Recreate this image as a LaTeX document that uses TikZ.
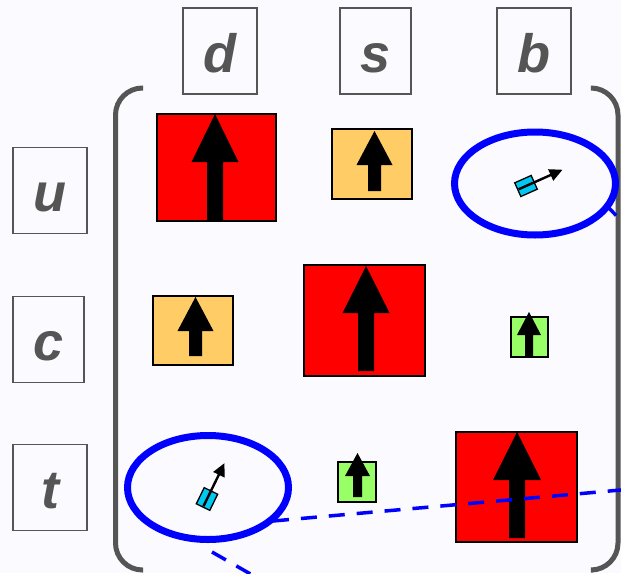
\documentclass[tikz,border=0pt]{standalone}
\usepackage{fontspec}
\setmainfont{Liberation Sans}
\usetikzlibrary{shapes.geometric,arrows.meta}

\definecolor{bgpaper}{RGB}{250,250,255}
\definecolor{labelgray}{RGB}{85,85,85}
\definecolor{spinred}{RGB}{255,0,0}
\definecolor{spinorange}{RGB}{255,204,102}
\definecolor{spingreen}{RGB}{153,255,102}
\definecolor{spincyan}{RGB}{0,200,240}
\definecolor{mixblue}{RGB}{0,0,255}

% upward spin arrow: x, y bottom, y head base, y tip, shaft width, head width
\newcommand\spinup[6]{%
  \fill[black] ({#1-#5/2},#2) -- ({#1-#5/2},#3) -- ({#1-#6/2},#3) -- (#1,#4)
    -- ({#1+#6/2},#3) -- ({#1+#5/2},#3) -- ({#1+#5/2},#2) -- cycle;}

% small tilted spin inside a mixing ellipse: centre x, centre y, rotation
\newcommand\tinyspin[3]{%
  \begin{scope}[shift={(#1,#2)}, rotate=#3]
    \draw[fill=spincyan, line width=1.3pt] (-7.5,-9) rectangle (7.5,9);
    \draw[line width=2.4pt, -{Triangle[length=13pt,width=12pt]}] (0,8) -- (0,-40);
  \end{scope}}

\begin{document}
\begin{tikzpicture}[x=1pt, y=-1pt,
  flavour/.style={draw=labelgray, line width=1.8pt, inner sep=0pt,
    minimum width=74pt, text height=64pt, text depth=22pt, text=labelgray,
    font=\fontsize{54}{54}\selectfont\bfseries\itshape},
  cell/.style={draw=black, line width=1.5pt, inner sep=0pt},
  mixing/.style={ellipse, draw=mixblue, line width=7pt, inner sep=0pt},
  link/.style={draw=mixblue, line width=3.5pt, dash pattern=on 16pt off 12pt},
  bracket/.style={draw=labelgray, line width=5pt, rounded corners=27pt}]

  \useasboundingbox (0,0) rectangle (621,573);
  \fill[bgpaper] (0,0) rectangle (621,573);
  \clip (0,0) rectangle (621,573);

  % column and row labels
  \node[flavour] (lbd) at (220,51) {d};
  \node[flavour, minimum width=71pt] (lbs) at (375.5,51) {s};
  \node[flavour] (lbb) at (534,51) {b};
  \node[flavour] (lbu) at (50,190.5) {u};
  \node[flavour, minimum width=71pt] (lbc) at (48.5,339.5) {c};
  \node[flavour] (lbt) at (50,487.5) {t};

  % matrix brackets
  \draw[bracket] (143,88) -- (115.5,88) -- (115.5,570) -- (143,570);
  \draw[bracket] (593,88) -- (618,88) -- (618,570) -- (593,570);

  % matrix cells
  \node[cell, fill=spinred, minimum width=119pt, minimum height=107pt] (ud) at (216.5,167.5) {};
  \node[cell, fill=spinorange, minimum width=80pt, minimum height=70pt] (us) at (372,164) {};
  \node[mixing, minimum width=161pt, minimum height=103pt] (ub) at (535,183.5) {};

  \node[cell, fill=spinorange, minimum width=80pt, minimum height=69pt] (cd) at (193,330.5) {};
  \node[cell, fill=spinred, minimum width=121pt, minimum height=111pt] (cs) at (364.5,320.5) {};
  \node[cell, fill=spingreen, minimum width=37pt, minimum height=40pt] (cb) at (529.5,337) {};

  \node[mixing, minimum width=161pt, minimum height=104pt] (td) at (208,487.5) {};
  \node[cell, fill=spingreen, minimum width=38pt, minimum height=40pt] (ts) at (357,482) {};
  \node[cell, fill=spinred, minimum width=121pt, minimum height=110pt] (tb) at (516.5,487) {};

  % spin arrows
  \spinup{215}{220}{162}{114}{16}{47}
  \spinup{374.5}{191}{165}{131}{13}{36}
  \spinup{195.5}{356}{331}{297}{13}{36}
  \spinup{366}{371}{313}{266}{16}{47}
  \spinup{529}{356}{335}{312}{8}{24}
  \spinup{357.5}{497}{476}{453}{9}{25}
  \spinup{517}{538}{480}{432}{16}{48}

  \tinyspin{526}{186}{-66}
  \tinyspin{207}{499}{-26}

  % dashed connectors leaving the mixing ellipses
  \coordinate (tdA) at (273,521);
  \coordinate (tdAend) at (660,486.5);
  \coordinate (tdB) at (212,552);
  \coordinate (tdBend) at (275,588);
  \coordinate (ubA) at (605,204);
  \coordinate (ubAend) at (640,240);
  \draw[link] (tdA) -- (tdAend);
  \draw[link] (tdB) -- (tdBend);
  \draw[link] (ubA) -- (ubAend);
\end{tikzpicture}
\end{document}
